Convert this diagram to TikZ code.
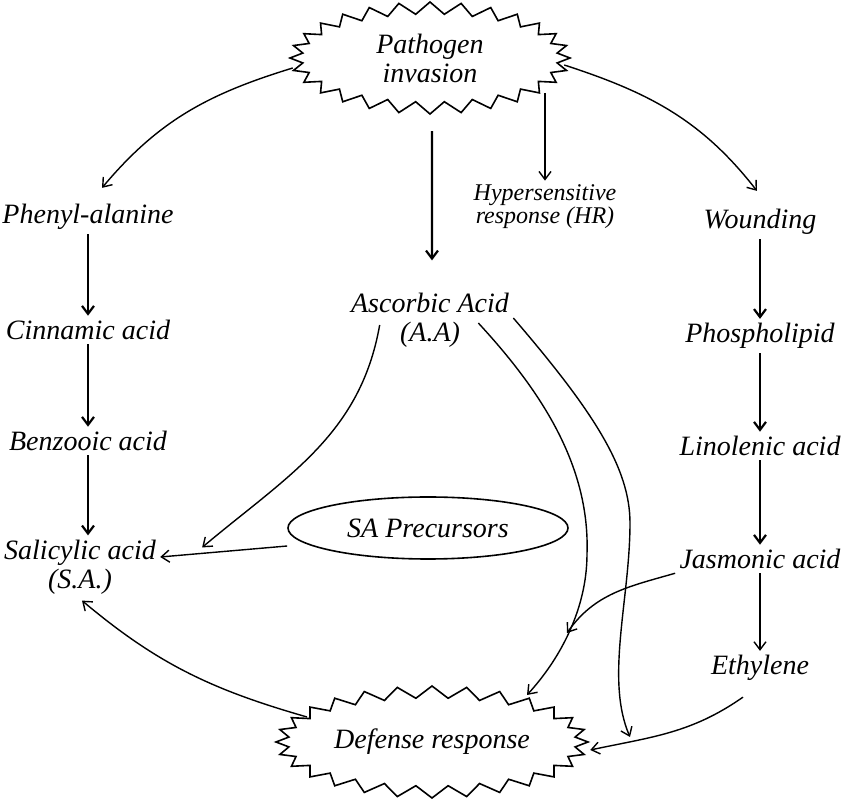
\documentclass[tikz,border=0pt]{standalone}
\usepackage{fontspec}
\setmainfont{Liberation Serif}
\usetikzlibrary{shapes.symbols,shapes.geometric,arrows.meta,calc}

\begin{document}
\begin{tikzpicture}[x=0.5pt,y=0.5pt,
    every node/.style={font=\fontsize{14}{14.5}\selectfont\itshape,align=center,inner sep=2pt},
    burst/.style={draw,starburst,starburst points=28,starburst point height=6pt,
        random starburst=0,line width=0.8pt,minimum width=140pt,minimum height=56pt},
    small/.style={font=\fontsize{12}{11.5}\selectfont\itshape},
    arr/.style={-{Straight Barb[length=4pt,width=6pt]},line width=0.7pt},
    thickarr/.style={arr,line width=1.1pt}]
    \useasboundingbox (0,0) rectangle (843,799);
    %% pathogen and defense
    \node[burst] (patho) at (430,741) {Pathogen\\invasion};
    \node[burst] (defense) at (432,57) {Defense response};
    %% left column
    \node (phenyl) at (88,582) {Phenyl-alanine};
    \node (cinnam) at (88,469) {Cinnamic acid};
    \node (benzo) at (88,358) {Benzooic acid};
    \node (salic) at (80,232) {Salicylic acid\\(S.A.)};
    %% middle
    \node (ascorb) at (430,479) {Ascorbic Acid\\(A.A)};
    \node[small] (hyper) at (545,592) {Hypersensitive\\response (HR)};
    \node[draw,ellipse,line width=0.8pt,minimum width=140pt,minimum height=31pt] (precur) at (428,271) {SA Precursors};
    %% right column
    \node (wound) at (760,577) {Wounding};
    \node (phospho) at (760,463) {Phospholipid};
    \node (linol) at (760,353) {Linolenic acid};
    \node (jasmo) at (760,240) {Jasmonic acid};
    \node (ethyl) at (760,131) {Ethylene};
    \coordinate (hrstart) at (545,706);
    \coordinate (dtip) at (630,62);
    %% chains
    \draw[thickarr] (phenyl) -- (cinnam);
    \draw[thickarr] (cinnam) -- (benzo);
    \draw[thickarr] (benzo) -- (benzo |- salic.north);
    \draw[thickarr] (wound) -- (phospho);
    \draw[thickarr] (phospho) -- (linol);
    \draw[thickarr] (linol) -- (jasmo);
    \draw[arr] (jasmo) -- (ethyl);
    %% from pathogen
    \draw[thickarr,shorten <=8pt,shorten >=14pt] ($(patho.south)+(2,0)$) -- ($(ascorb.north)+(2,0)$);
    \draw[arr] (hrstart) -- (hyper.north);
    \draw[arr] ($(patho.west)+(5,-10)$) to[out=197,in=50] ($(phenyl.north)+(14,12)$);
    \draw[arr] ($(patho.east)+(-8,-7)$) to[out=-18,in=128] ($(wound.north)+(-3,14)$);
    %% into salicylic acid
    \draw[arr] ($(precur.west)+(0,-18)$) -- ($(salic.east)+(0,10)$);
    \draw[arr] ($(ascorb.west)+(33,-5)$) to[out=-100,in=40] ($(precur.west)!0.67!($(salic.east)+(0,10)$)$);
    \draw[arr] ($(defense)+(-125,25)$) to[out=164,in=-40] ($(salic.south)+(2,-2)$);
    %% into defense response
    \draw[arr] ($(ascorb.east)+(-35,-3)$) .. controls (545,404) and (590,330) .. (587,245)
        .. controls (587,190) and (560,140) .. ($(defense)+(95,47)$);
    \draw[arr] ($(ascorb.east)+(0,2)$) .. controls (595,386) and (630,330) .. (630,276)
        .. controls (630,200) and (605,120) .. (dtip);
    \draw[arr] (jasmo.south west) to[out=196,in=55] ($(defense)+(135,109)$);
    \draw[arr] ($(ethyl.south)+(-17,-12)$) to[out=215,in=12] ($(defense.east)+(0,-8)$);
\end{tikzpicture}
\end{document}
